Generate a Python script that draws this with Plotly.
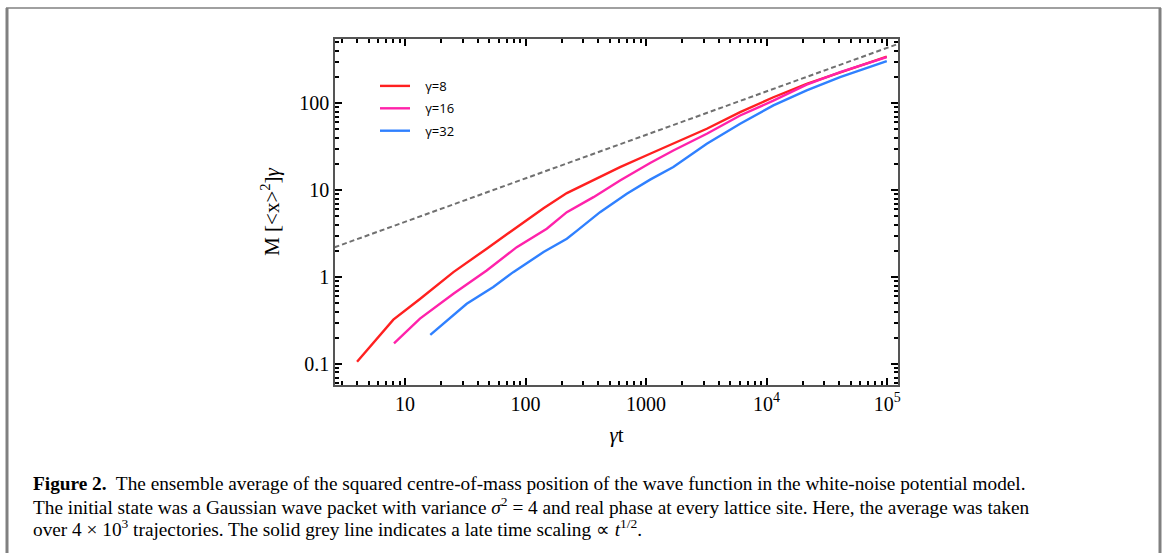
import plotly.graph_objects as go

# ---- data ----
g8_t = [4, 8, 13.3, 25.2, 47.6, 90, 141, 220, 343, 608, 1080, 1683, 3190, 6030, 11380, 21500, 40700, 99300]
g8_m = [0.106, 0.324, 0.56, 1.14, 2.12, 3.93, 6.2, 9.25, 12.4, 18.4, 26.2, 34.2, 50.8, 78.8, 117, 167, 227, 344]

g16_t = [8.1, 13.3, 25.2, 47.6, 84.5, 150, 220, 366, 608, 1080, 1683, 3190, 6030, 11380, 21500, 40700, 99300]
g16_m = [0.173, 0.333, 0.644, 1.19, 2.21, 3.6, 5.58, 8.3, 12.9, 20.5, 28.6, 44.5, 72.2, 107, 163, 227, 338]

g32_t = [16.2, 32.5, 54, 79, 141, 220, 266, 415, 692, 1080, 1683, 3190, 6030, 11380, 21500, 40700, 99300]
g32_m = [0.216, 0.494, 0.77, 1.14, 1.94, 2.76, 3.4, 5.58, 9.1, 13.2, 18.4, 34.2, 58, 94.2, 140, 199, 304]

ref_t = [2.6, 125000]
ref_m = [2.2, 484]

legend_names = ["γ=8", "γ=16", "γ=32"]
colors = ["#ff2020", "#ff22aa", "#2f80ff"]

x_tickvals = [10, 100, 1000, 10000, 100000]
x_ticktext = ["10", "100", "1000", "10<sup>4</sup>", "10<sup>5</sup>"]
y_tickvals = [0.1, 1, 10, 100]
y_ticktext = ["0.1", "1", "10", "100"]

caption_lines = [
    "<b>Figure 2.</b>  The ensemble average of the squared centre-of-mass position of the wave function in the white-noise potential model.",
    "The initial state was a Gaussian wave packet with variance <i>σ</i><sup>2</sup> = 4 and real phase at every lattice site. Here, the average was taken",
    "over 4 × 10<sup>3</sup> trajectories. The solid grey line indicates a late time scaling ∝ <i>t</i><sup>1/2</sup>.",
]

# ---- figure ----
fig = go.Figure()
for i, (t, m, name, c) in enumerate(zip([g8_t, g16_t, g32_t], [g8_m, g16_m, g32_m], legend_names, colors)):
    fig.add_trace(go.Scatter(x=t, y=m, mode="lines", name="\u00a0\u00a0\u00a0" + name,
                             legendgroup="g%d" % i,
                             line=dict(color=c, width=2.4)))
fig.add_trace(go.Scatter(x=ref_t, y=ref_m, mode="lines", showlegend=False,
                         line=dict(color="#707070", width=2, dash="5px,3px")))

L, R, T, B = 335, 898, 38.5, 385
W, H = 1165, 553
pw, ph = R - L, B - T

def px(xp):
    return (xp - L) / pw

def py(yp):
    return (B - yp) / ph

serif = "Liberation Serif, Times New Roman, serif"
minor_vals = [k * 10 ** e for e in range(-2, 6) for k in range(2, 10)]

axis_common = dict(
    type="log", showgrid=False, zeroline=False,
    showline=True, linecolor="#555555", linewidth=1.5, mirror="allticks",
    ticks="inside", ticklen=7, tickwidth=2, tickcolor="black",
    tickfont=dict(family=serif, size=20, color="black"),
    minor=dict(tickmode="array", tickvals=minor_vals, ticks="inside",
               ticklen=4, tickwidth=1.5, tickcolor="black", showgrid=False),
)

fig.update_xaxes(**axis_common, range=[0.419, 5.09], tickmode="array",
                 tickvals=x_tickvals, ticktext=x_ticktext,
                 title=dict(text="<i>γ</i>t", font=dict(family=serif, size=21, color="black"), standoff=14))
fig.update_yaxes(**axis_common, range=[-1.241, 2.738], tickmode="array",
                 tickvals=y_tickvals, ticktext=y_ticktext,
                 title=dict(text="M [&lt;x&gt;<sup>2</sup>]<i>γ</i>",
                            font=dict(family=serif, size=21, color="black"), standoff=14))

shapes = [
    dict(type="line", xref="paper", yref="paper", x0=px(7), x1=px(7), y0=py(7.5), y1=py(600),
         line=dict(color="#808080", width=3)),
    dict(type="line", xref="paper", yref="paper", x0=px(1160), x1=px(1160), y0=py(7.5), y1=py(600),
         line=dict(color="#808080", width=3)),
    dict(type="line", xref="paper", yref="paper", x0=px(6), x1=px(1161), y0=py(7.5), y1=py(7.5),
         line=dict(color="#808080", width=1.5)),
]

annotations = []
for i, line in enumerate(caption_lines):
    annotations.append(dict(text=line, xref="paper", yref="paper", x=px(31), y=py(483.5 + 22.6 * i),
                            xanchor="left", yanchor="middle", showarrow=False, align="left",
                            font=dict(family=serif, size=19.3, color="black")))

fig.update_layout(
    width=W, height=H, autosize=False,
    margin=dict(l=L, r=W - R, t=T, b=H - B, pad=0),
    paper_bgcolor="white", plot_bgcolor="white",
    showlegend=True,
    legend=dict(x=px(375), y=py(70.5), xanchor="left", yanchor="top",
                bgcolor="rgba(0,0,0,0)", borderwidth=0,
                font=dict(family="Open Sans, sans-serif", size=13, color="black"),
                itemwidth=30, tracegroupgap=2.5),
    shapes=shapes, annotations=annotations,
)

fig.write_html("out.html")
